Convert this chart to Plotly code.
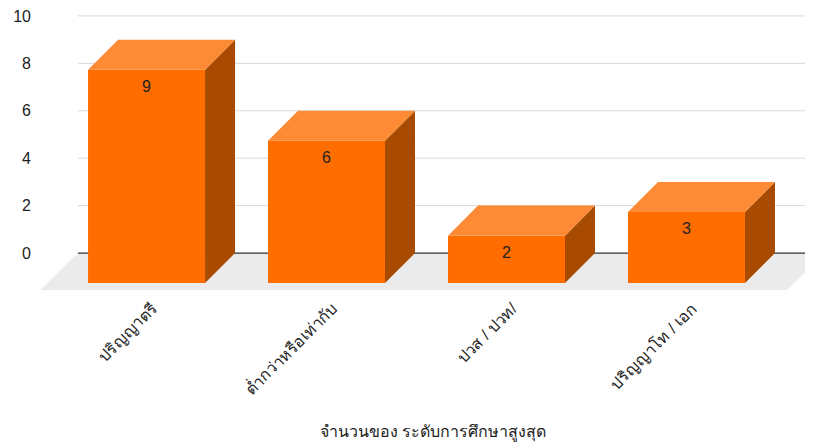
import plotly.graph_objects as go

# ---- data ----
categories = ["ปริญญาตรี", "ต่ำกว่าหรือเท่ากับ", "ปวส / ปวท/", "ปริญญาโท / เอก"]
values = [9, 6, 2, 3]
y_ticks = [0, 2, 4, 6, 8, 10]
axis_title = "จำนวนของ ระดับการศึกษาสูงสุด"

# ---- style ----
FRONT = "#ff6d01"
TOP = "#fd8a35"
SIDE = "#a84a00"
FLOOR = "#ebebeb"
GRID = "#d9d9d9"
ZERO = "#333333"
FONT = "Arial, Liberation Sans, Noto Sans, sans-serif"

W = 0.65        # front face width (category units)
DX = 0.1667     # 3D depth, x (category units)
DY = 1.266      # 3D depth, y (value units)
FDX = 0.211     # floor depth x
FDY = 1.56      # floor depth y
X_RANGE = [-0.592, 3.703]
Y_RANGE = [-1.77, 10.25]

fig = go.Figure()

fl_x0 = X_RANGE[0]
fl_x1 = 3.558

# floor
fig.add_shape(type="path", xref="x", yref="y",
              path=(f"M {fl_x0},{-FDY} L {fl_x0 + FDX},0 L {fl_x1 + FDX},0 "
                    f"L {fl_x1},{-FDY} Z"),
              fillcolor=FLOOR, line=dict(width=0), layer="below")

# gridlines
for t in y_ticks[1:]:
    fig.add_shape(type="line", xref="x", yref="y",
                  x0=fl_x0 + FDX, x1=X_RANGE[1], y0=t, y1=t,
                  line=dict(color=GRID, width=1), layer="below")

# zero line
fig.add_shape(type="line", xref="x", yref="y",
              x0=fl_x0 + FDX, x1=X_RANGE[1], y0=0, y1=0,
              line=dict(color=ZERO, width=1.2), layer="below")

for i, v in enumerate(values):
    l = i - W / 2
    r = i + W / 2
    # side
    fig.add_trace(go.Scatter(
        x=[r, r + DX, r + DX, r, r], y=[-DY, 0, v, v - DY, -DY],
        fill="toself", fillcolor=SIDE, mode="lines", line=dict(width=0),
        hoverinfo="skip", showlegend=False))
    # top
    fig.add_trace(go.Scatter(
        x=[l, l + DX, r + DX, r, l], y=[v - DY, v, v, v - DY, v - DY],
        fill="toself", fillcolor=TOP, mode="lines", line=dict(width=0),
        hoverinfo="skip", showlegend=False))

# front faces
fig.add_trace(go.Bar(x=list(range(len(values))), y=values, base=-DY, width=W,
                     marker=dict(color=FRONT, line=dict(width=0)),
                     showlegend=False, hoverinfo="skip"))

# value labels
fig.add_trace(go.Scatter(
    x=list(range(len(values))), y=[v - DY - 0.76 for v in values],
    mode="text", text=[str(v) for v in values],
    textfont=dict(family=FONT, size=16, color="#222222"),
    hoverinfo="skip", showlegend=False))

fig.add_annotation(text=axis_title, xref="paper", yref="paper",
                   x=0.508, y=-0.484, xanchor="center", yanchor="middle",
                   showarrow=False,
                   font=dict(family=FONT, size=16, color="#222222"))

fig.update_layout(
    width=805, height=436,
    margin=dict(l=32, r=0, t=2, b=149),
    paper_bgcolor="white", plot_bgcolor="white",
    font=dict(family=FONT, size=16, color="#222222"),
    barmode="overlay",
    xaxis=dict(range=X_RANGE, tickvals=list(range(len(categories))),
               ticktext=categories, tickangle=-45, showgrid=False,
               zeroline=False, showline=False, fixedrange=True,
               ticklabelshift=6,
               tickfont=dict(family=FONT, size=16, color="#222222")),
    yaxis=dict(range=Y_RANGE, tickvals=y_ticks, showgrid=False,
               zeroline=False, showline=False, ticklabelstandoff=8,
               ticklabeloverflow="allow",
               tickfont=dict(family=FONT, size=16, color="#222222")),
)

fig.write_html("out.html")
